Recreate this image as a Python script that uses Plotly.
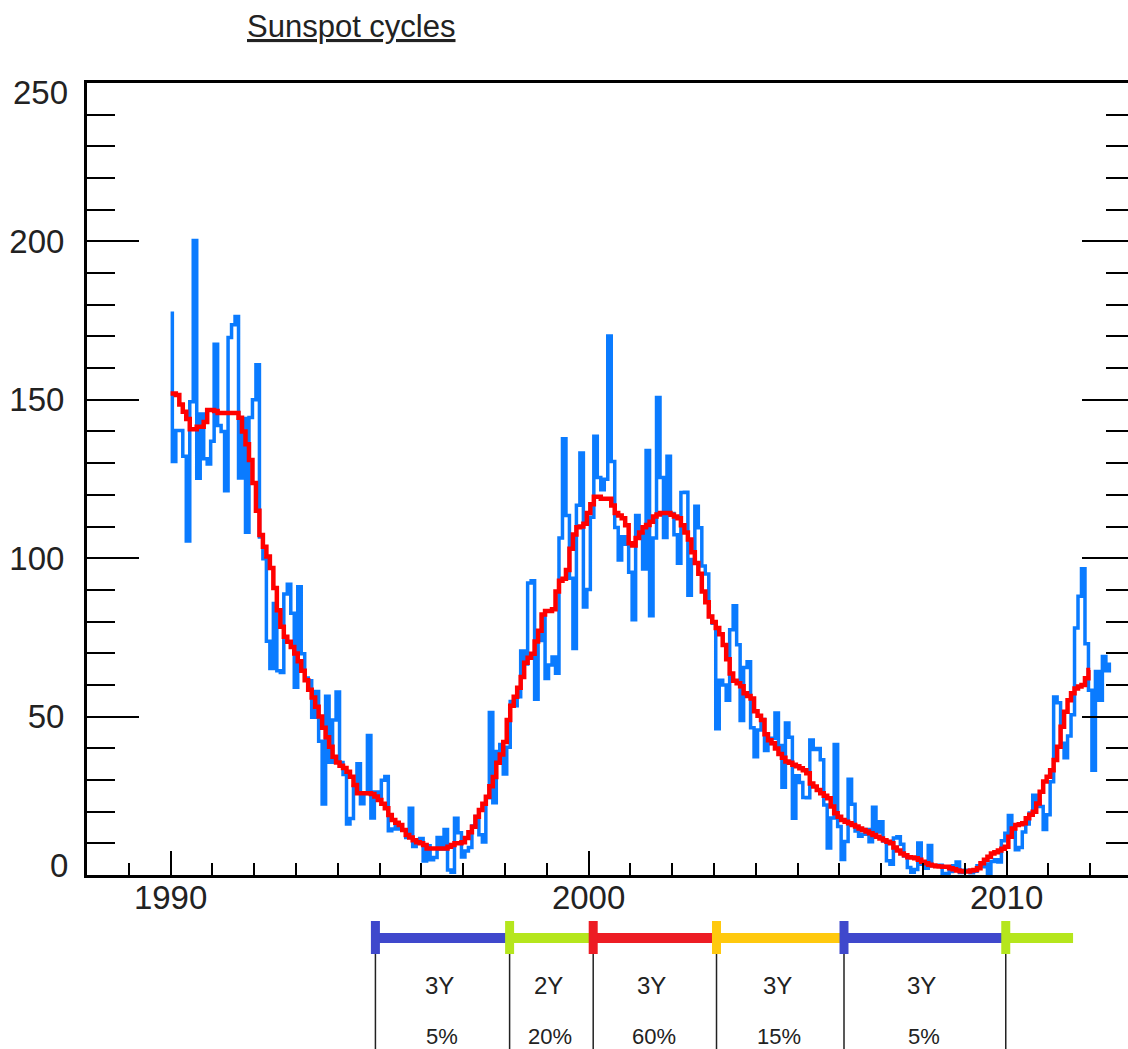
import numpy as np
import plotly.graph_objects as go

# ---------------- data ----------------
start_year = 1990
# Monthly sunspot number, Jan 1990 .. Jul 2012
ssn_monthly = [
    177.3, 130.5, 140.3, 140.3, 132.2, 105.4, 149.4, 200.3, 125.2, 145.5, 131.4, 129.7,  # 1990
    136.9, 167.5, 141.9, 140.0, 121.3, 169.7, 173.7, 176.3, 125.3, 144.1, 108.2, 144.4,  # 1991
    150.0, 161.1, 106.7, 99.8, 73.8, 65.2, 85.7, 64.5, 63.9, 88.7, 91.8, 82.6,           # 1992
    59.3, 91.0, 69.8, 62.2, 61.3, 49.8, 57.9, 42.2, 22.4, 56.4, 35.6, 48.9,              # 1993
    57.8, 35.5, 31.7, 16.1, 17.8, 28.0, 35.1, 22.5, 25.7, 44.0, 18.0, 26.2,              # 1994
    24.2, 29.9, 31.1, 14.0, 14.5, 15.6, 14.5, 14.3, 11.8, 21.1, 9.0, 10.0,               # 1995
    11.5, 4.4, 9.2, 4.8, 5.5, 11.8, 8.2, 14.4, 1.6, 0.9, 17.9, 13.3,                     # 1996
    5.7, 7.6, 8.7, 15.5, 18.5, 12.7, 10.4, 24.4, 51.3, 22.8, 39.0, 41.2,                 # 1997
    31.9, 40.3, 54.8, 53.4, 56.3, 70.7, 66.6, 92.2, 92.9, 55.5, 74.0, 81.9,              # 1998
    62.0, 66.3, 68.8, 63.7, 106.4, 137.7, 113.5, 93.7, 71.5, 116.7, 133.2, 84.6,         # 1999
    90.1, 112.9, 138.5, 125.5, 121.6, 124.9, 170.1, 130.5, 109.7, 99.4, 106.8, 104.4,    # 2000
    95.6, 80.6, 113.5, 107.7, 96.6, 134.0, 81.8, 106.4, 150.7, 125.5, 106.5, 132.2,      # 2001
    114.1, 107.4, 98.4, 120.7, 120.8, 88.3, 99.6, 116.4, 109.6, 97.5, 95.0, 81.6,        # 2002
    79.5, 46.2, 61.5, 60.0, 55.2, 77.4, 85.0, 72.7, 48.8, 65.5, 67.3, 46.5,              # 2003
    37.3, 45.8, 49.1, 39.3, 41.5, 43.2, 51.1, 40.9, 27.7, 48.0, 43.5, 17.9,              # 2004
    31.3, 29.2, 24.5, 24.4, 42.6, 39.6, 39.9, 36.4, 22.1, 8.5, 18.0, 41.2,               # 2005
    15.3, 4.9, 10.6, 30.2, 22.3, 13.9, 12.2, 12.9, 14.4, 10.5, 21.4, 13.6,               # 2006
    16.8, 10.7, 4.5, 3.4, 11.7, 12.1, 9.7, 6.0, 2.4, 0.9, 1.7, 10.1,                     # 2007
    3.4, 2.1, 9.3, 2.9, 2.9, 3.1, 0.5, 0.5, 1.1, 2.9, 4.1, 0.8,                          # 2008
    1.5, 1.4, 0.7, 1.2, 2.9, 2.6, 3.5, 0.0, 4.3, 4.8, 4.1, 10.8,                         # 2009
    13.2, 18.8, 15.4, 8.0, 8.7, 13.6, 16.1, 19.6, 25.2, 23.5, 21.6, 14.4,                # 2010
    19.0, 29.4, 56.2, 54.4, 41.6, 37.0, 43.9, 50.6, 78.0, 88.0, 96.7, 73.0,              # 2011
    58.3, 33.1, 64.2, 55.2, 69.0, 64.5, 66.5,                                            # 2012
]

# 13-month smoothed sunspot number, Jan 1990 .. Jan 2012
ssn_smoothed = [
    152.0, 152.0, 151.5, 148.5, 146.2, 143.9, 140.7, 140.7, 141.5, 141.5, 143.0, 146.8,  # 1990
    146.8, 146.5, 145.8, 145.8, 145.8, 145.8, 145.8, 145.8, 144.3, 140.0, 136.0, 131.0,  # 1991
    123.7, 115.0, 107.3, 103.6, 100.5, 96.9, 90.6, 83.6, 78.4, 75.2, 73.6, 72.0,         # 1992
    69.9, 67.5, 64.5, 61.5, 58.5, 56.0, 53.1, 50.0, 46.5, 43.5, 40.5, 37.3,              # 1993
    35.5, 34.5, 33.8, 32.6, 31.0, 28.4, 25.8, 25.8, 25.8, 25.8, 25.6, 24.8,              # 1994
    23.7, 22.5, 21.1, 18.9, 17.4, 16.5, 15.8, 14.2, 12.6, 11.8, 11.0, 10.3,              # 1995
    10.0, 9.5, 8.4, 8.4, 8.4, 8.4, 8.4, 8.4, 8.9, 9.5, 10.0, 10.0,                       # 1996
    10.3, 11.7, 13.5, 15.2, 18.4, 20.5, 22.5, 24.7, 28.0, 30.9, 35.4, 38.0,              # 1997
    42.0, 48.9, 53.4, 56.3, 59.1, 62.5, 67.0, 68.6, 69.8, 73.7, 77.1, 82.2,              # 1998
    83.3, 83.3, 83.9, 89.5, 92.9, 93.5, 96.3, 103.0, 107.5, 109.8, 110.0, 110.9,         # 1999
    114.3, 117.0, 119.4, 119.4, 118.8, 118.8, 118.8, 116.6, 114.3, 113.5, 112.6, 110.4,  # 2000
    104.7, 104.0, 106.4, 108.1, 109.8, 110.5, 111.5, 113.2, 113.8, 114.3, 114.3, 114.3,  # 2001
    113.7, 113.2, 112.6, 110.4, 108.1, 105.9, 101.9, 98.5, 95.1, 89.5, 86.1, 81.6,       # 2002
    79.9, 78.0, 76.0, 72.6, 68.1, 63.6, 61.3, 60.5, 59.6, 57.4, 56.5, 55.7,              # 2003
    51.7, 50.3, 48.9, 44.4, 42.5, 41.6, 39.9, 38.2, 37.0, 35.8, 35.4, 34.8,              # 2004
    34.3, 33.7, 33.1, 32.1, 28.9, 27.9, 26.8, 25.8, 25.0, 24.2, 21.6, 19.5,              # 2005
    18.4, 17.4, 16.8, 16.3, 15.8, 15.3, 14.7, 14.2, 13.7, 13.2, 12.6, 12.1,              # 2006
    11.5, 11.0, 10.5, 10.0, 8.7, 7.7, 6.8, 6.2, 5.6, 5.5, 5.3, 4.8,                      # 2007
    4.2, 3.7, 3.2, 3.0, 2.8, 2.7, 2.6, 2.6, 2.1, 1.8, 1.4, 1.2,                          # 2008
    1.1, 1.1, 1.4, 1.6, 2.1, 3.7, 4.8, 5.8, 6.8, 7.2, 7.7, 8.3,                          # 2009
    8.9, 12.1, 14.7, 15.8, 16.0, 16.3, 17.9, 19.0, 20.0, 22.6, 26.3, 29.5,               # 2010
    31.0, 33.1, 36.3, 40.5, 46.8, 51.5, 55.2, 57.4, 58.9, 59.5, 60.0, 62.1,              # 2011
    64.7,                                                                                # 2012
]

# Timeline of cycle phases under the chart
phase_bounds = [1994.90, 1998.11, 2000.11, 2003.06, 2006.11, 2009.98, 2011.59]
phase_colors = ["#3F48CC", "#B5E61D", "#ED1C24", "#FFC90E", "#3F48CC", "#B5E61D"]
phase_years = ["3Y", "2Y", "3Y", "3Y", "3Y"]
phase_probs = ["5%", "20%", "60%", "15%", "5%"]

y_tick_vals = [50, 100, 150, 200]
y_end_ticks = [0, 250]
x_tick_vals = [1990, 2000, 2010]
x_tick_text = ["1990", "2000", "2010"]

# ---------------- layout geometry ----------------
W, H = 1128, 1049
ML, MR, MT, MB = 87, 0, 83, 174
PLOT_H = H - MT - MB
PX_PER_YEAR = 41.8
x_lo = 1988.0
x_hi = x_lo + (W - ML - MR) / PX_PER_YEAR


def paper_y(px):
    return (H - MB - px) / PLOT_H


FONT = "Liberation Sans, Arial, sans-serif"
INK = "#222222"

t_blue = start_year + np.arange(len(ssn_monthly)) / 12.0
t_red = start_year + np.arange(len(ssn_smoothed)) / 12.0

fig = go.Figure()
fig.add_trace(go.Scatter(
    x=t_blue, y=ssn_monthly, mode="lines",
    line=dict(color="#0A7BFF", width=3.5, shape="hvh"),
    showlegend=False, hoverinfo="skip"))
fig.add_trace(go.Scatter(
    x=t_red, y=ssn_smoothed, mode="lines",
    line=dict(color="#FF0000", width=4.5, shape="hvh"),
    showlegend=False, hoverinfo="skip"))
# dummy trace so that the right-hand tick axis is drawn
fig.add_trace(go.Scatter(x=[None], y=[None], yaxis="y2", showlegend=False,
                         hoverinfo="skip"))

shapes = []
annotations = []

# timeline bars
y_bar = paper_y(938)
for i, c in enumerate(phase_colors):
    shapes.append(dict(type="line", xref="x", yref="paper",
                       x0=phase_bounds[i], x1=phase_bounds[i + 1],
                       y0=y_bar, y1=y_bar,
                       line=dict(color=c, width=10), layer="above"))
for i, c in enumerate(phase_colors):
    # vertical thin separator
    shapes.append(dict(type="line", xref="x", yref="paper",
                       x0=phase_bounds[i], x1=phase_bounds[i],
                       y0=paper_y(950), y1=paper_y(1060),
                       line=dict(color=INK, width=1.5), layer="above"))
    # coloured cap
    shapes.append(dict(type="rect", xref="x", yref="paper",
                       xsizemode="pixel", xanchor=phase_bounds[i],
                       x0=-4.5, x1=4.5,
                       y0=paper_y(954), y1=paper_y(921),
                       fillcolor=c, line=dict(width=0), layer="above"))

for i in range(len(phase_years)):
    xm = (phase_bounds[i] + phase_bounds[i + 1]) / 2
    annotations.append(dict(x=xm, y=paper_y(985), xref="x", yref="paper",
                            text=phase_years[i], showarrow=False, xshift=-3,
                            xanchor="center", yanchor="middle",
                            font=dict(family=FONT, size=24, color=INK)))
    annotations.append(dict(x=xm, y=paper_y(1036), xref="x", yref="paper",
                            text=phase_probs[i], showarrow=False, xshift=-1,
                            xanchor="center", yanchor="middle",
                            font=dict(family=FONT, size=22, color=INK)))

# end tick labels of y axis (shifted inside the axis range like the original)
for v, dy in zip(y_end_ticks, [10, -9]):
    annotations.append(dict(x=0, y=v, xref="paper", yref="y", text=str(v),
                            showarrow=False, xanchor="right", yanchor="middle",
                            xshift=-17, yshift=dy,
                            font=dict(family=FONT, size=33, color=INK)))

# title
annotations.append(dict(x=(245 - ML) / (W - ML - MR), y=paper_y(27),
                        xref="paper", yref="paper",
                        text="<u>Sunspot cycles</u>", showarrow=False,
                        xanchor="left", yanchor="middle",
                        font=dict(family=FONT, size=31, color=INK)))

fig.update_layout(
    width=W, height=H,
    margin=dict(l=ML, r=MR, t=MT, b=MB, pad=0),
    paper_bgcolor="white", plot_bgcolor="white",
    showlegend=False,
    xaxis=dict(
        range=[x_lo, x_hi], showgrid=False, zeroline=False,
        showline=True, linewidth=2.5, linecolor="black", mirror=True,
        tickmode="array", tickvals=x_tick_vals, ticktext=x_tick_text,
        ticks="inside", ticklen=24, tickwidth=2, tickcolor="black",
        minor=dict(dtick=1, tick0=1988, ticks="inside", ticklen=12,
                   tickwidth=2, tickcolor="black", showgrid=False),
        tickfont=dict(family=FONT, size=33, color=INK),
        ticklabelstandoff=-8,
    ),
    yaxis=dict(
        range=[0, 250], showgrid=False, zeroline=False,
        showline=True, linewidth=3, linecolor="black",
        tickmode="array", tickvals=y_tick_vals,
        ticks="inside", ticklen=52, tickwidth=2, tickcolor="black",
        minor=dict(dtick=10, tick0=0, ticks="inside", ticklen=28,
                   tickwidth=2, tickcolor="black", showgrid=False),
        tickfont=dict(family=FONT, size=33, color=INK),
        ticklabelstandoff=13,
    ),
    yaxis2=dict(
        range=[0, 250], overlaying="y", side="right", showgrid=False,
        zeroline=False, showline=False, showticklabels=False,
        tickmode="linear", tick0=0, dtick=50,
        ticks="inside", ticklen=46, tickwidth=2, tickcolor="black",
        minor=dict(dtick=10, tick0=0, ticks="inside", ticklen=22,
                   tickwidth=2, tickcolor="black", showgrid=False),
    ),
    shapes=shapes,
    annotations=annotations,
)

fig.write_html("out.html", config={"displayModeBar": False},
               post_script="document.body.style.margin='0px';"
                           "document.body.style.overflow='hidden';")
